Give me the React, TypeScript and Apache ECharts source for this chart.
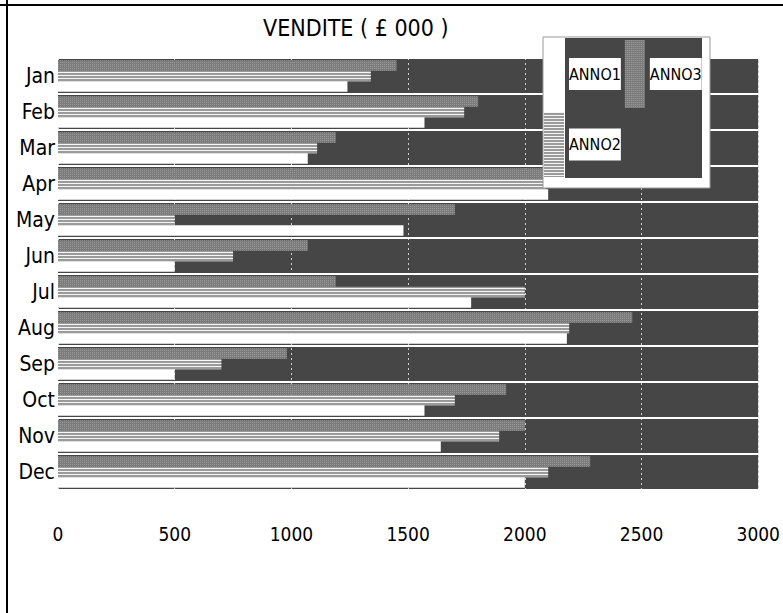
import React, { useEffect, useRef } from "react";
import * as echarts from "echarts";

const months = ["Jan", "Feb", "Mar", "Apr", "May", "Jun", "Jul", "Aug", "Sep", "Oct", "Nov", "Dec"];
const anno1 = [1240, 1570, 1070, 2100, 1480, 500, 1770, 2180, 500, 1570, 1640, 2000];
const anno2 = [1340, 1740, 1110, 2090, 500, 750, 2000, 2190, 700, 1700, 1890, 2100];
const anno3 = [1450, 1800, 1190, 2100, 1700, 1070, 1190, 2460, 980, 1920, 2000, 2280];
const xTicks = [0, 500, 1000, 1500, 2000, 2500, 3000];

const FONT = "'DejaVu Sans Condensed', 'Open Sans', 'DejaVu Sans', sans-serif";
const STRETCH = "condensed";

export default function App() {
  const ref = useRef<HTMLDivElement>(null);
  useEffect(() => {
    const chart = echarts.init(ref.current!, undefined, { renderer: "svg" });
    const ditherDecal = {
      symbol: "rect",
      symbolSize: 1,
      dashArrayX: [1, 1],
      dashArrayY: [1, 1],
      color: "rgba(180,180,180,0.5)",
    };
    const stripeDecal = {
      symbol: "rect",
      symbolSize: 1,
      dashArrayX: [1, 0],
      dashArrayY: [1, 2],
      color: "rgba(255,255,255,0.9)",
    };
    const legendText = {
      color: "#000",
      backgroundColor: "#fff",
      padding: [8, 0, 8, 0],
      fontSize: 16,
      fontWeight: STRETCH,
      fontFamily: FONT,
    };
    chart.setOption({
      animation: false,
      backgroundColor: "#fff",
      title: {
        text: "VENDITE ( £ 000 )",
        left: 263,
        top: 16,
        padding: 0,
        textStyle: { color: "#000", fontSize: 23, fontWeight: STRETCH, fontFamily: FONT },
      },
      grid: {
        left: 58,
        right: 18,
        top: 58,
        bottom: 123,
        show: true,
        backgroundColor: "#464646",
        borderWidth: 0,
      },
      xAxis: {
        type: "value",
        min: 0,
        max: 3000,
        interval: 500,
        axisLine: { show: false },
        axisTick: { show: false },
        axisLabel: {
          margin: 34,
          color: "#000",
          fontSize: 19,
          fontWeight: STRETCH,
          fontFamily: FONT,
          formatter: (v: number) => (xTicks.includes(v) ? String(v) : ""),
        },
        splitLine: {
          show: true,
          lineStyle: { color: "rgba(255,255,255,0.75)", width: 1, type: [2, 3] },
        },
      },
      yAxis: {
        type: "category",
        data: months,
        inverse: true,
        axisLine: { show: false },
        axisTick: { show: false },
        axisLabel: {
          margin: 3,
          color: "#000",
          fontSize: 21,
          fontWeight: STRETCH,
          fontFamily: FONT,
          interval: 0,
        },
        splitLine: { show: true, interval: 0, lineStyle: { color: "#fff", width: 2 } },
      },
      legend: [
        {
          data: ["ANNO1", "ANNO3"],
          left: 544,
          top: 40,
          padding: 0,
          itemGap: 4,
          itemWidth: 20,
          itemHeight: 68,
          icon: "rect",
          z: 30,
          selectedMode: false,
          textStyle: legendText,
        },
        {
          data: ["ANNO2"],
          left: 544,
          top: 112,
          padding: 0,
          itemGap: 4,
          itemWidth: 20,
          itemHeight: 65,
          icon: "rect",
          z: 30,
          selectedMode: false,
          textStyle: legendText,
        },
      ],
      graphic: [
        { type: "line", shape: { x1: 0, y1: 5, x2: 783, y2: 5 }, style: { stroke: "#000", lineWidth: 2 } },
        { type: "line", shape: { x1: 7, y1: 0, x2: 7, y2: 613 }, style: { stroke: "#000", lineWidth: 2 } },
        {
          type: "rect",
          z: 20,
          shape: { x: 543, y: 37, width: 167, height: 151 },
          style: { fill: "#fff", stroke: "#999", lineWidth: 1 },
        },
        {
          type: "rect",
          z: 21,
          shape: { x: 565, y: 38, width: 137, height: 140 },
          style: { fill: "#464646" },
        },
      ],
      series: [
        {
          name: "ANNO3",
          type: "bar",
          data: anno3,
          barWidth: 10.5,
          barGap: "0%",
          itemStyle: { color: "#7c7c7c", decal: ditherDecal },
        },
        {
          name: "ANNO2",
          type: "bar",
          data: anno2,
          barWidth: 10.5,
          barGap: "0%",
          itemStyle: { color: "#9a9a9a", decal: stripeDecal },
        },
        {
          name: "ANNO1",
          type: "bar",
          data: anno1,
          barWidth: 10.5,
          barGap: "0%",
          itemStyle: { color: "#ffffff" },
        },
      ],
    });
    return () => chart.dispose();
  }, []);
  return (
    <div
      ref={ref}
      style={{ position: "fixed", left: 0, top: 0, width: 783, height: 613 }}
    />
  );
}
